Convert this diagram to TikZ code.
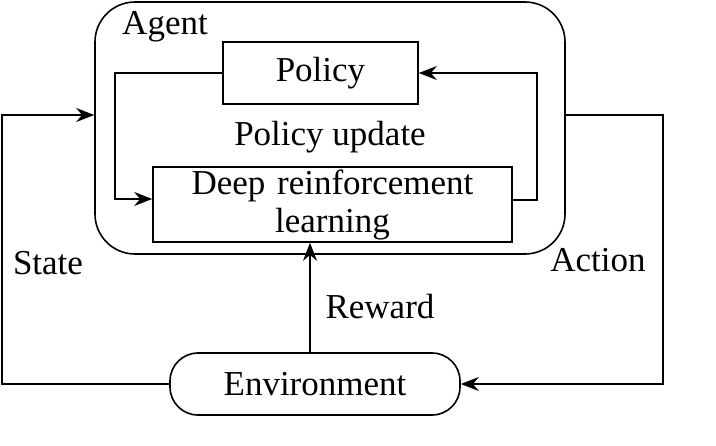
\documentclass[tikz,border=0pt]{standalone}
\usepackage{fontspec}
\setmainfont{Liberation Serif}
\usetikzlibrary{arrows.meta,positioning}

\tikzset{
  box/.style={draw, line width=0.8pt, minimum width=#1, inner sep=0pt, align=center},
  flow/.style={line width=0.8pt, -{Stealth[length=9pt,width=7pt]}},
  lbl/.style={font=\fontsize{17.5}{20}\selectfont}
}

\begin{document}
\begin{tikzpicture}[x=0.5pt, y=-0.5pt, font=\fontsize{17.5}{20}\selectfont]
\useasboundingbox (0,0) rectangle (716,445);
% agent frame
\node[box=235pt, minimum height=126pt, rounded corners=20pt] (agent) at (330,128) {};
\node[lbl] (agentlbl) at (165,27) {Agent};
% inner boxes
\node[box=97.5pt, minimum height=31pt] (policy) at (320.5,73) {Policy};
\node[box=179.5pt, minimum height=37.5pt, text width=175pt] (drl) at (332.5,204.5) {Deep reinforcement\\[-1pt]learning};
\node[lbl] (update) at (330,137) {Policy update};
% environment
\node[box=145pt, minimum height=31pt, rounded corners=14pt] (env) at (315,384) {Environment};
% loop inside agent
\coordinate (lt) at (115,73);
\coordinate (lb) at (115,199);
\coordinate (rb) at (537,200);
\coordinate (rt) at (537,73);
\draw[flow] (policy.west) -- (lt) -- (lb) -- (lb -| drl.west);
\draw[flow] (rb -| drl.east) -- (rb) -- (rt) -- (policy.east);
% outer loop
\coordinate (sb) at (2,384);
\coordinate (st) at (2,115);
\coordinate (at) at (663,115);
\coordinate (ab) at (663,384);
\draw[flow] (env.west) -- (sb) -- (st) -- (st -| agent.west);
\draw[flow] (at -| agent.east) -- (at) -- (ab) -- (env.east);
\draw[flow] (env.north -| 310,0) -- (drl.south -| 310,0);
% labels
\node[lbl] (state) at (48,263) {State};
\node[lbl] (action) at (598,260) {Action};
\node[lbl] (reward) at (380,307) {Reward};
\end{tikzpicture}
\end{document}
